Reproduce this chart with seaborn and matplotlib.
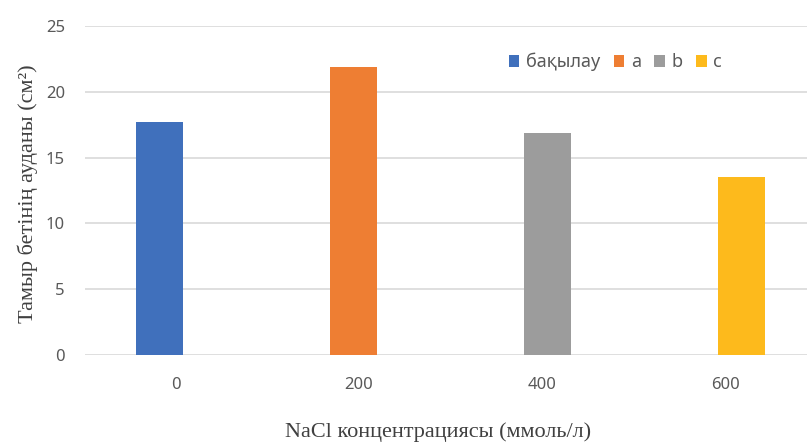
import numpy as np
import pandas as pd
import matplotlib
matplotlib.use("Agg")
import matplotlib.pyplot as plt
import seaborn as sns

# data
concentrations = ["0", "200", "400", "600"]
series = ["бақылау", "a", "b", "c"]
values = [17.7, 21.9, 16.9, 13.5]
colors = ["#4070BC", "#EE7E33", "#9C9C9C", "#FDBA1C"]

frame = pd.DataFrame({"conc": concentrations, "group": series, "area": values})

sns.set_style("white")
plt.rcParams["font.family"] = ["Noto Sans", "DejaVu Sans"]

fig = plt.figure(figsize=(8.07, 4.47), dpi=100)
ax = fig.add_axes([84.5 / 807, 1 - 355 / 447, 732 / 807, 329 / 447])

# excel-like overlapped series: narrow dodge slots, wide bars
sns.barplot(data=frame, x="conc", y="area", hue="group", order=concentrations,
            hue_order=series, palette=colors, saturation=1, dodge=True,
            width=0.24, gap=-3.28, linewidth=0, errorbar=None, ax=ax, zorder=3)

ax.set_xlim(-0.5, 3.5)
ax.set_ylim(0, 25)
ax.set_yticks(np.arange(0, 26, 5))
ax.grid(axis="y", color="#D9D9D9", linewidth=1.2, zorder=0)
ax.set_axisbelow(True)
for s in ax.spines.values():
    s.set_visible(False)
ax.tick_params(axis="both", length=0, labelsize=12, labelcolor="#595959")
ax.tick_params(axis="y", pad=14)
ax.tick_params(axis="x", pad=16)

serif = ["Liberation Serif", "DejaVu Serif"]
ax.set_ylabel("Тамыр бетінің ауданы (см²)", fontsize=16, color="#404040", family=serif)
ax.yaxis.set_label_coords(-0.063, 0.49)
ax.set_xlabel("NaCl концентрациясы (ммоль/л)", fontsize=16, color="#404040", family=serif)
ax.xaxis.set_label_coords(0.483, -0.203)

ax.legend(loc="center left", bbox_to_anchor=(0.567, 0.89), ncol=4, frameon=False,
          fontsize=13, handlelength=0.6, handleheight=0.6, handletextpad=0.35,
          columnspacing=0.75, borderpad=0, labelcolor="#595959")

fig.savefig("out.png", dpi=100)
